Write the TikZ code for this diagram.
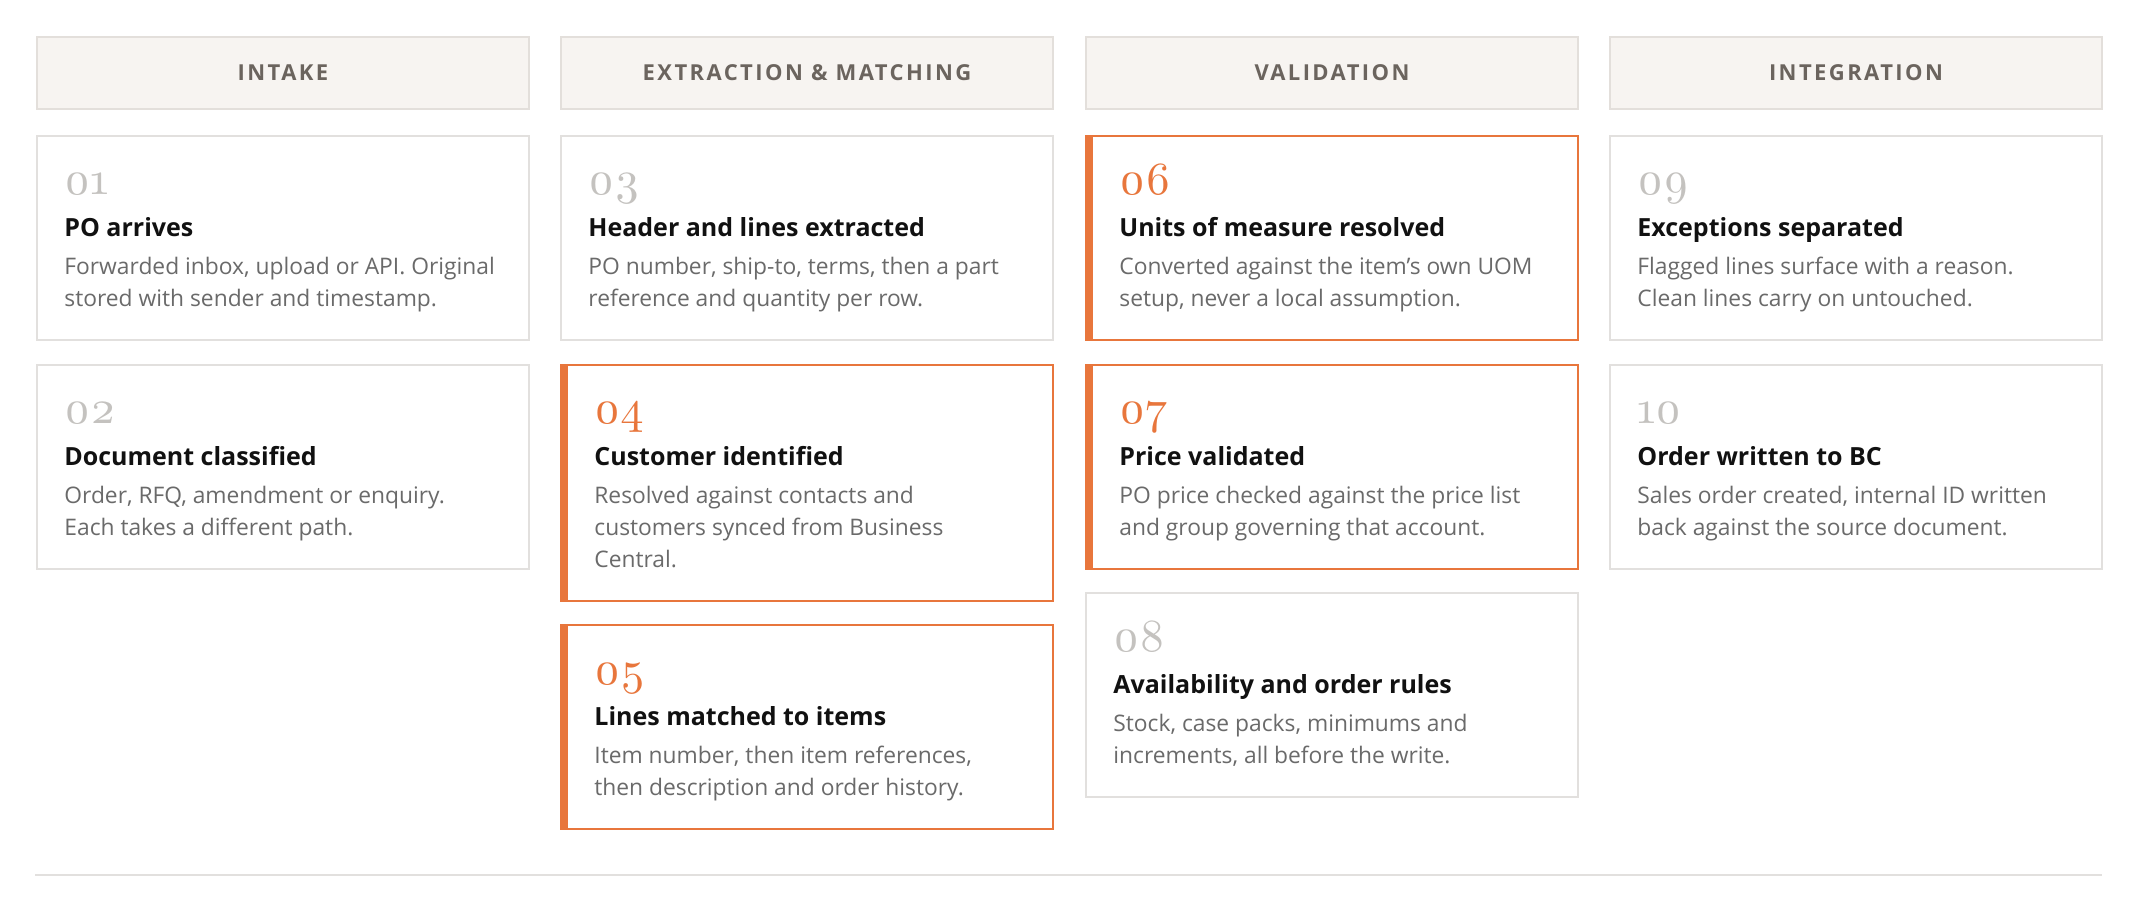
\documentclass[tikz,border=0pt]{standalone}
\usepackage{fontspec}
\setmainfont{Open Sans}
\newfontfamily\numfont{lmroman10-regular.otf}[Numbers=OldStyle]
\newfontfamily\headfont{Open Sans}[LetterSpace=11]
\definecolor{accent}{HTML}{E8763C}
\definecolor{headfill}{HTML}{F7F4F1}
\definecolor{headline}{HTML}{E3DFDB}
\definecolor{headtext}{HTML}{6B645E}
\definecolor{cardline}{HTML}{E2E0DE}
\definecolor{numgray}{HTML}{C4C2BF}
\definecolor{titleblack}{HTML}{111111}
\definecolor{bodygray}{HTML}{6A6A6A}
\begin{document}
\begin{tikzpicture}[x=0.5pt, y=-0.5pt,
  colhead/.style={draw=headline, line width=1pt, fill=headfill, minimum width=246pt, minimum height=36pt, anchor=north west, inner sep=0pt, text=headtext, font=\headfont\bfseries\fontsize{11}{12}\selectfont},
  cardbox/.style={draw=cardline, line width=1pt, fill=white, minimum width=246pt, minimum height=102pt, anchor=north west, inner sep=0pt},
  accentbox/.style={cardbox, draw=accent, path picture={\fill[accent] (path picture bounding box.north west) rectangle ([xshift=3.5pt]path picture bounding box.south west);}},
  numtext/.style={anchor=base west, inner sep=0pt, text=numgray, font=\numfont\fontsize{23}{24}\selectfont},
  accentnum/.style={numtext, text=accent},
  titletext/.style={anchor=base west, inner sep=0pt, text=titleblack, font=\bfseries\fontsize{12.5}{16}\selectfont},
  bodytext/.style={anchor=base west, inner sep=0pt, align=left, text=bodygray, font=\fontsize{11.4}{16}\selectfont}]
      \useasboundingbox (0,0) rectangle (2138,900);

      % intake
      \node[colhead] (intake) at (36,36) {INTAKE};
      \node[cardbox] (c01) at (36,135) {};
      \node[numtext] (n01) at (64,194) {01};
      \node[titletext] (t01) at (64,236) {PO arrives};
      \node[bodytext] (b01) at (64,306) {Forwarded inbox, upload or API. Original\\stored with sender and timestamp.};
      \node[cardbox] (c02) at (36,364) {};
      \node[numtext] (n02) at (64,423) {02};
      \node[titletext] (t02) at (64,465) {Document classified};
      \node[bodytext] (b02) at (64,535) {Order, RFQ, amendment or enquiry.\\Each takes a different path.};

      % extraction and matching
      \node[colhead] (extract) at (560,36) {EXTRACTION \& MATCHING};
      \node[cardbox] (c03) at (560,135) {};
      \node[numtext] (n03) at (588,194) {03};
      \node[titletext] (t03) at (588,236) {Header and lines extracted};
      \node[bodytext] (b03) at (588,306) {PO number, ship-to, terms, then a part\\reference and quantity per row.};
      \node[accentbox, minimum height=118pt] (c04) at (560,364) {};
      \node[accentnum] (n04) at (594,423) {04};
      \node[titletext] (t04) at (594,465) {Customer identified};
      \node[bodytext] (b04) at (594,567) {Resolved against contacts and\\customers synced from Business\\Central.};
      \node[accentbox] (c05) at (560,624) {};
      \node[accentnum] (n05) at (594,684) {05};
      \node[titletext] (t05) at (594,725) {Lines matched to items};
      \node[bodytext] (b05) at (594,795) {Item number, then item references,\\then description and order history.};

      % validation
      \node[colhead] (valid) at (1085,36) {VALIDATION};
      \node[accentbox] (c06) at (1085,135) {};
      \node[accentnum] (n06) at (1119,194) {06};
      \node[titletext] (t06) at (1119,236) {Units of measure resolved};
      \node[bodytext] (b06) at (1119,306) {Converted against the item's own UOM\\setup, never a local assumption.};
      \node[accentbox] (c07) at (1085,364) {};
      \node[accentnum] (n07) at (1119,423) {07};
      \node[titletext] (t07) at (1119,465) {Price validated};
      \node[bodytext] (b07) at (1119,535) {PO price checked against the price list\\and group governing that account.};
      \node[cardbox] (c08) at (1085,592) {};
      \node[numtext] (n08) at (1113,651) {08};
      \node[titletext] (t08) at (1113,693) {Availability and order rules};
      \node[bodytext] (b08) at (1113,763) {Stock, case packs, minimums and\\increments, all before the write.};

      % integration
      \node[colhead] (integ) at (1609,36) {INTEGRATION};
      \node[cardbox] (c09) at (1609,135) {};
      \node[numtext] (n09) at (1637,194) {09};
      \node[titletext] (t09) at (1637,236) {Exceptions separated};
      \node[bodytext] (b09) at (1637,306) {Flagged lines surface with a reason.\\Clean lines carry on untouched.};
      \node[cardbox] (c10) at (1609,364) {};
      \node[numtext] (n10) at (1637,423) {10};
      \node[titletext] (t10) at (1637,465) {Order written to BC};
      \node[bodytext] (b10) at (1637,535) {Sales order created, internal ID written\\back against the source document.};

      \coordinate (ruleL) at (35,875);
      \coordinate (ruleR) at (2102,875);
      \draw[cardline, line width=1pt] (ruleL) -- (ruleR);

    \end{tikzpicture}
\end{document}
